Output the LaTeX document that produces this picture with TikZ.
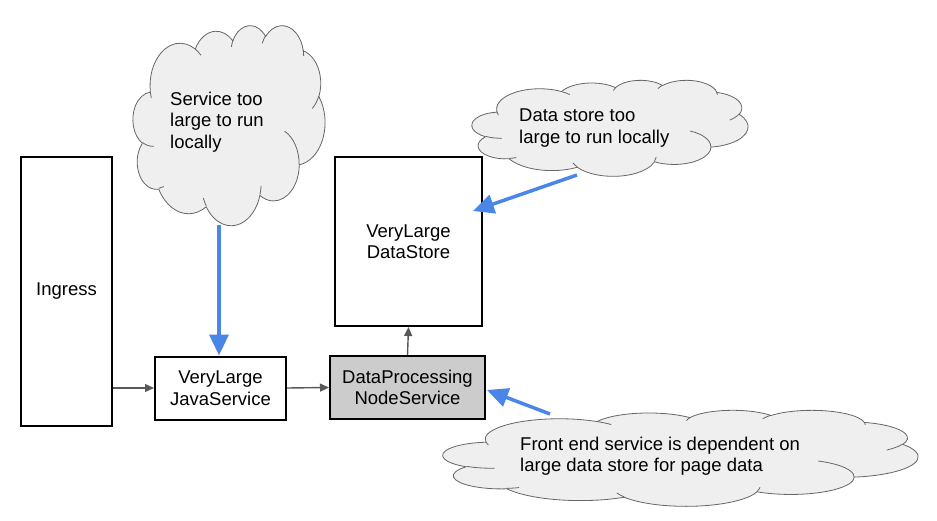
\documentclass[tikz,border=0pt]{standalone}
\usepackage{fontspec}
\setmainfont{Liberation Sans}
\usetikzlibrary{arrows.meta}
\definecolor{blueline}{HTML}{4A86E8}
\definecolor{grayline}{HTML}{595959}
\definecolor{cloudfill}{HTML}{EFEFEF}
\definecolor{cloudline}{HTML}{666666}
\definecolor{boxgray}{HTML}{CCCCCC}
% cloud arc helper: id, wR, hR, start angle, sweep (visual angles, y down)
\newcommand\oodef[5]{%
  \pgfmathsetmacro\cldA{atan2((#2)*sin(#4),(#3)*cos(#4))}%
  \pgfmathsetmacro\cldB{atan2((#2)*sin((#4)+(#5)),(#3)*cos((#4)+(#5)))}%
  \pgfmathsetmacro\cldB{\cldB+360*(((#5)>0)*(\cldB<\cldA)-((#5)<0)*(\cldB>\cldA))}%
  \expandafter\xdef\csname ooarc#1\endcsname{arc[start angle=\cldA, end angle=\cldB, x radius=#2, y radius=#3]}%
}
\oodef{a}{67.53}{91.90}{-190.4875}{123.7805}
\oodef{b}{53.33}{72.67}{-144.1024}{89.9452}
\oodef{c}{43.65}{59.45}{-145.8079}{99.7230}
\oodef{d}{48.57}{65.95}{-130.9861}{117.2417}
\oodef{e}{53.33}{72.73}{-78.7089}{109.0269}
\oodef{f}{67.75}{92.20}{-46.2673}{130.2690}
\oodef{g}{57.85}{78.67}{0.6250}{114.0333}
\oodef{h}{67.52}{92.15}{22.4516}{115.1726}
\oodef{i}{77.20}{105.43}{66.2426}{75.7110}
\oodef{j}{43.60}{59.18}{-274.9421}{146.7356}
\oodef{k}{43.45}{59.45}{-246.8285}{152.5189}
\oodef{l}{43.45}{59.45}{86.7420}{26.4295}
\oodef{m}{43.60}{59.18}{73.6105}{11.4475}
\oodef{n}{67.52}{92.15}{137.6242}{14.0811}
\oodef{o}{67.52}{92.15}{6.4533}{15.9984}
\oodef{p}{57.85}{78.67}{-70.2924}{70.9174}
\oodef{q}{53.33}{72.73}{30.3180}{27.7515}
\oodef{r}{48.57}{65.95}{-13.7443}{14.8589}
\oodef{s}{48.57}{65.95}{-149.1815}{18.1954}
\oodef{t}{43.65}{59.45}{-163.4943}{17.6864}
\oodef{u}{67.53}{91.90}{-66.7070}{12.3194}
\oodef{v}{67.53}{91.90}{157.6544}{11.8582}
\newcommand\cloudshape[4]{% x0 y0 width height
  \begin{scope}[shift={(#1,#2)}, x=1pt, y=1pt, xscale=#3/432, yscale=-#4/432]
    \draw[draw=cloudline, fill=cloudfill, line width=0.8pt, line join=round]
      (39.00,143.70) \ooarca \ooarcb \ooarcc \ooarcd \ooarce \ooarcf
      \ooarcg \ooarch \ooarci \ooarcj \ooarck -- cycle;
    \draw[draw=cloudline, line width=0.8pt]
      (46.93,261.77) \ooarcl (69.28,348.99) \ooarcm (164.78,390.90) \ooarcn
      (288.27,347.51) \ooarco (341.29,229.54) \ooarcp (417.98,153.54) \ooarcq
      (383.24,54.26) \ooarcr (290.78,39.52) \ooarcs (221.41,47.20) \ooarct
      (140.00,51.92) \ooarcu (41.27,157.89) \ooarcv;
  \end{scope}%
}
\begin{document}
\begin{tikzpicture}[x=1pt,y=-1pt,
  font=\fontsize{18.5}{21.5}\selectfont,
  box/.style={draw=black, line width=2pt, fill=white, align=center, inner sep=0pt},
  cloudtext/.style={anchor=west, align=left, inner sep=0pt},
  flow/.style={draw=grayline, line width=1.4pt, -{Triangle[length=9pt,width=8pt]}},
  note/.style={draw=blueline, line width=3.5pt, -{Triangle[length=21pt,width=19pt]}}]
\useasboundingbox (0,0) rectangle (937,521);

% boxes
\node[box, minimum width=91, minimum height=269] (ingress) at (66.5,291.5) {Ingress};
\node[box, minimum width=131, minimum height=63] (java) at (220.5,388) {VeryLarge\\JavaService};
\node[box, fill=boxgray, minimum width=155, minimum height=63] (dp) at (407.5,387.5) {DataProcessing\\NodeService};
\node[box, minimum width=147, minimum height=169] (store) at (408.5,241.5) {VeryLarge\\DataStore};

% clouds
\cloudshape{133}{25}{192}{200}
\node[cloudtext] (t1) at (170,122) {Service too\\large to run\\locally};
\cloudshape{472}{80}{276}{96}
\node[cloudtext] (t2) at (519,128) {Data store too\\large to run locally};
\cloudshape{443}{410}{475}{96}
\node[cloudtext] (t3) at (520,456) {Front end service is dependent on\\large data store for page data};

% flow connectors
\draw[flow] (ingress.east |- java.west) -- (java.west);
\draw[flow] (java.east) -- (dp.west);
\draw[flow] (dp.north) -- (store.south);

% annotation arrows
\coordinate (a1s) at (219,225);
\coordinate (a2s) at (577,175);
\coordinate (a2e) at (473,211);
\coordinate (a3s) at (550,414);
\coordinate (a3e) at (487,390);
\draw[note] (a1s) -- (java.north -| a1s);
\draw[note] (a2s) -- (a2e);
\draw[note] (a3s) -- (a3e);
\end{tikzpicture}
\end{document}
